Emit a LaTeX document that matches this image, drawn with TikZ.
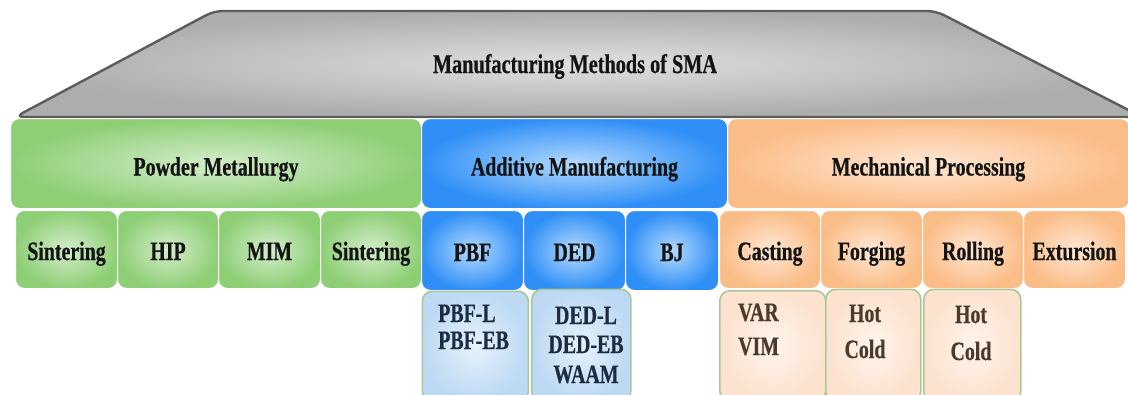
\documentclass[tikz,border=0pt]{standalone}
\usepackage{fontspec}
\setmainfont{Liberation Serif}[FakeStretch=0.75, BoldFeatures={FakeBold=0.6}]
\definecolor{grnE}{HTML}{8ECF76}
\definecolor{grnC}{HTML}{D4EDCB}
\definecolor{bluE}{HTML}{2F8FF6}
\definecolor{bluC}{HTML}{B4DAFF}
\definecolor{orgE}{HTML}{FBBD88}
\definecolor{orgC}{HTML}{FFE7D4}
\definecolor{sbE}{HTML}{BDD9F3}
\definecolor{sbC}{HTML}{E6F2FC}
\definecolor{soE}{HTML}{FCE2CF}
\definecolor{soC}{HTML}{FFF4EC}
\definecolor{subB}{HTML}{A9C897}
\definecolor{grayE}{HTML}{ADADAD}
\definecolor{grayC}{HTML}{E0E0E0}
\definecolor{grayB}{HTML}{5C5C5C}
\definecolor{txtB}{HTML}{1D2C40}
\definecolor{txtO}{HTML}{4A3B2C}
\tikzset{
  lbl/.style={font=\bfseries\fontsize{26.5}{30}\selectfont, text=black!92},
  blk/.style={rectangle, rounded corners=9pt, inner sep=0pt, draw=white, line width=1pt, anchor=north west, lbl, text depth=0pt},
  big/.style={text height=24pt},
  small/.style={text height=21pt},
  grn/.style={blk, inner color=grnC, outer color=grnE},
  blu/.style={blk, inner color=bluC, outer color=bluE},
  org/.style={blk, inner color=orgC, outer color=orgE},
  subb/.style={rectangle, rounded corners=10pt, inner sep=0pt, draw=subB, line width=1.6pt, anchor=north west, inner color=sbC, outer color=sbE},
  subo/.style={rectangle, rounded corners=10pt, inner sep=0pt, draw=subB, line width=1.6pt, anchor=north west, inner color=soC, outer color=soE},
  stb/.style={font=\bfseries\fontsize{26.5}{30}\selectfont, text=txtB, inner sep=0pt},
  sto/.style={font=\bfseries\fontsize{26.5}{30}\selectfont, text=txtO, inner sep=0pt},
  notch/.style={fill=white}
}
\begin{document}
\begin{tikzpicture}[x=1pt,y=-1pt]
\useasboundingbox (0,0) rectangle (1128,394);
% top trapezoid
\shade[inner color=grayC, outer color=grayE, rounded corners=9pt]
  (15,117) -- (214,11) -- (936,11) -- (1142,117) -- cycle;
\draw[grayB, line width=2.4pt, rounded corners=9pt]
  (15,117) -- (214,11) -- (936,11) -- (1142,117) -- cycle;
\node[lbl, font=\bfseries\fontsize{27}{30}\selectfont, anchor=base, inner sep=0pt] (title) at (575,73) {Manufacturing Methods of SMA};

% main categories
\node[grn, big, minimum width=411pt, minimum height=90pt] (pm) at (10,118) {Powder Metallurgy};
\node[blu, big, minimum width=306pt, minimum height=90pt] (am) at (421,118) {Additive Manufacturing};
\node[org, big, minimum width=402pt, minimum height=90pt] (mp) at (727,118) {Mechanical Processing};

% powder metallurgy methods
\node[grn, small, minimum width=102pt, minimum height=78pt] (sin1) at (15,210) {Sintering};
\node[grn, small, minimum width=101pt, minimum height=78pt] (hip) at (117,210) {HIP};
\node[grn, small, minimum width=102pt, minimum height=78pt] (mim) at (218,210) {MIM};
\node[grn, small, minimum width=101pt, minimum height=78pt] (sin2) at (320,210) {Sintering};

% additive manufacturing methods
\node[blu, small, minimum width=102pt, minimum height=80pt] (pbf) at (421,210) {PBF};
\node[blu, small, minimum width=102pt, minimum height=80pt] (ded) at (523,210) {DED};
\node[blu, small, minimum width=93pt, minimum height=80pt] (bj) at (625,210) {BJ};

% mechanical processing methods
\node[org, small, minimum width=101pt, minimum height=78pt] (cast) at (719,210) {Casting};
\node[org, small, minimum width=102pt, minimum height=78pt] (forg) at (820,210) {Forging};
\node[org, small, minimum width=101pt, minimum height=78pt] (roll) at (922,210) {Rolling};
\node[org, small, minimum width=102pt, minimum height=78pt] (extr) at (1023,210) {Extursion};

% notches
\foreach \x in {117,218,320,523,625,820,922,1023}
  \fill[notch] (\x-4.5,209.5) -- (\x+4.5,209.5) -- (\x,216) -- cycle;

% sub boxes
\node[subb, minimum width=106pt, minimum height=110pt] (pbfs) at (421.5,290.5) {};
\node[subb, minimum width=99pt, minimum height=112pt] (deds) at (531,288.5) {};
\node[subo, minimum width=106pt, minimum height=110pt] (casts) at (719,290) {};
\node[subo, minimum width=95pt, minimum height=112pt] (forgs) at (825,288.5) {};
\node[subo, minimum width=97pt, minimum height=112pt] (rolls) at (923,288.5) {};

% sub box texts
\node[stb, anchor=base west] (pbfl) at (438,322) {PBF-L};
\node[stb, anchor=base west] (pbfeb) at (438,349) {PBF-EB};
\node[stb, anchor=base] (dedl) at (586,324) {DED-L};
\node[stb, anchor=base] (dedeb) at (586,353) {DED-EB};
\node[stb, anchor=base] (waam) at (586,383) {WAAM};
\node[sto, anchor=base west] (var) at (738,321) {VAR};
\node[sto, anchor=base west] (vim) at (738,355) {VIM};
\node[sto, anchor=base] (fhot) at (865,322) {Hot};
\node[sto, anchor=base] (fcold) at (865,358) {Cold};
\node[sto, anchor=base] (rhot) at (971,323) {Hot};
\node[sto, anchor=base] (rcold) at (971,360) {Cold};
\end{tikzpicture}
\end{document}
